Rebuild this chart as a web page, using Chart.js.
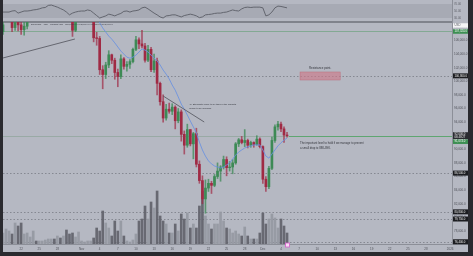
<!DOCTYPE html>
<html><head><meta charset="utf-8">
<script src="https://cdn.jsdelivr.net/npm/chart.js@4/dist/chart.umd.min.js"></script>
<style>html,body{margin:0;padding:0;background:#b5b8c2;overflow:hidden}canvas{display:block}</style>
</head><body>
<canvas id="c" width="473" height="256"></canvas>
<script>
// ---------- DATA (BTCUSD 12h, days relative to 1 Nov) ----------
const firstBarDay = -13;   // 19 Oct 00:00
const barDays = 0.5;       // 12h candles
const opens = [107300,108900,109600,110600,107900,110200,108300,107600,108100,109900,
110900,111200,110800,111300,111600,112700,114500,115600,114100,115200,
112900,113200,110000,109200,107500,109400,109600,110000,110100,110500,
110600,106400,106300,101700,101000,102400,103900,103100,101300,100700,
103300,102200,102500,102900,104700,106100,105500,105200,103100,104700,
101700,103000,99700,97000,94600,95900,95600,96200,94200,95500,
92200,90600,92900,90800,92300,87800,85400,82700,84300,85000,
84700,86000,86800,87400,88500,87300,87400,88000,90800,91400,
91000,91300,90600,91000,90700,91500,90400,85600,84500,87200,
91300,93300,93700,93000,92100];
const highs = [109000,110000,111000,111200,110800,114000,109000,109200,110400,111300,
111800,112000,111600,111900,113000,114900,116400,115900,116000,115600,
113600,113400,111000,109600,109800,110600,110300,110500,111200,111000,
110800,107200,106600,102300,102800,104500,104000,103400,101800,103900,
103500,102900,103200,104900,106600,106400,107500,105600,105300,105000,
104000,103400,99900,98000,96600,96800,96700,96400,96000,95800,
92700,93700,92900,92500,93100,88300,86100,85500,85600,85300,
86300,88000,87600,89000,88900,88200,88500,91000,91600,91900,
92900,91500,91200,91100,92000,91700,90500,86000,87500,91800,
93600,94100,94000,93300,92500];
const lows = [106900,108800,109200,107300,107500,107400,106900,106800,107700,109500,
109800,110300,110500,110900,111200,112400,114200,113800,113700,112200,
112500,109800,108900,106600,107300,108900,109200,109600,109700,109900,
105800,105300,101000,98900,100400,102000,102600,100300,99200,100400,
101800,101500,101900,102700,104500,104800,104900,102800,102900,101400,
101300,98000,96500,94000,94300,95300,95100,93000,93900,91200,
89300,90300,90500,88600,87400,85000,82000,80600,83800,83500,
84500,85700,85300,87100,86100,86800,86400,87800,90400,90800,
90400,90200,90300,90300,90600,90200,85000,83800,84200,87000,
91000,92800,92600,91000,91800];
const closes = [108300,109600,110600,107900,110200,108300,107600,108100,109900,110900,
111200,110800,111300,111600,112700,114500,115600,114100,115200,112900,
113200,110000,109200,107500,109400,109600,110000,110100,110500,110600,
106400,106300,101700,101000,102400,103900,103100,101300,100700,103300,
102200,102500,102900,104700,106100,105500,105200,103100,104700,101700,
103000,99700,97000,94600,95900,95600,96200,94200,95500,92200,
90600,92900,90800,92300,87800,85400,82700,84300,85000,84700,
86000,86800,87400,88500,87300,87400,88000,90800,91400,91000,
91300,90600,91000,90700,91500,90400,85600,84500,87200,91300,
93300,93700,93000,92100,92000];
const volumes = [11,15,13,10,21,18,21,10,11,7,
13,3,3,3,4,5,5,5,8,6,
8,14,10,11,7,12,3,2,3,3,
6,16,13,33,21,16,8,23,13,23,
8,3,2,4,10,23,25,38,25,42,
36,53,28,23,20,11,11,20,13,30,
25,31,16,20,16,38,53,28,20,15,
20,20,32,23,16,15,11,13,10,8,
17,8,5,5,5,11,31,20,25,30,
26,16,25,18,11];
const maValues = [null,null,null,null,null,null,null,null,null,null,
null,null,null,null,null,null,null,null,null,null,
null,null,null,null,null,null,null,null,null,111000,
110300,109500,108600,107850,107250,106650,106200,105650,105050,104450,
104000,103550,103400,103550,103850,104300,104750,104600,104300,103850,
103400,103000,102400,101650,101050,100350,99450,98700,97700,96650,
95900,95050,94150,93300,92400,91050,89900,89000,88300,87850,
87550,87400,87250,87400,87700,88000,88550,89150,89600,89900,
90200,90350,90500,90650,90650,90650,89900,89000,88700,89300,
89900,90500,90950,91350,91650];
const rsiValues = [47,47,47,50,51,44,47,50,50,51,
53,54,56,59,60,66,67,64,61,57,
53,47,39,44,47,49,50,50,53,51,
44,37,30,33,36,41,39,36,40,43,
49,50,47,50,51,53,59,61,56,50,
44,39,33,30,36,37,39,39,36,33,
37,39,41,39,36,31,33,39,40,41,
43,44,44,46,47,50,53,51,50,56,
60,61,60,61,61,61,59,36,39,47,
59,64,63,61,59];
const rsiBands = [70, 50, 30];
const xTickDays = [-10,-7,-4,0,3,6,9,12,15,18,21,24,27,30,33,36,39,42,45,48,51,54,57,61];
const xTickLabels = ['22','25','28','Nov','4','7','10','13','16','19','22','25','28','Dec','4','7','10','13','16','19','22','25','28','2026'];
const yTickValues = [108000,106000,104000,102000,100000,98000,96000,94000,92000,90000,88000,86000,84000,82000,80000,78000];
const supportLevel = 107324;
const dashedLevels = [100800, 86500, 80800, 79750, 76400];
const prevClose = 91074;
const countdown = '06:48:27';
const trendLines = [[-13, 103430, -1.1, 106220], [13.5, 97840, 20.3, 94015]];
const resistanceZone = [36.15, 101370, 42.8, 100190];
const zoneLabel = 'Resistance point.';
const notes = [
  {day: 17.8, price: 96660, lines: ['4H Stochastic ready to be taken if the markets', 'decide to go upwards.']},
  {day: 36.15, price: 90880, lines: ['The important level to hold if we manage to prevent', 'a small drop to 88K-89K.']}
];
const symbolText = 'BTCUSD \u00b7 12h \u00b7 COINBASE';

// ---------- CHART ----------
const times = opens.map((_, i) => firstBarDay + i * barDays);
const FONT = '"Liberation Sans", Arial, sans-serif';
const BG = '#b5b8c2';
const UP = '#3d8a55', DOWN = '#a02a44';
const isUp = i => closes[i] >= opens[i];
const fmt = v => v.toLocaleString('en-US', {minimumFractionDigits: 1, maximumFractionDigits: 1});
const PANEL_TOP = 22;
const priceClip = {left: 0, top: -PANEL_TOP, right: 0, bottom: 0};

function tag(ctx, x, y, w, h, bg, fg, lines) {
  ctx.fillStyle = bg;
  ctx.fillRect(x, y - h / 2, w, h);
  ctx.fillStyle = fg;
  ctx.font = '2.8px ' + FONT;
  ctx.textBaseline = 'middle';
  ctx.textAlign = 'left';
  const lh = h / lines.length;
  lines.forEach((t, k) => ctx.fillText(t, x + 1.5, y - h / 2 + lh * (k + 0.5)));
}

const deco = {
  id: 'deco',
  beforeDraw(chart) {
    const {ctx, chartArea: a, width, height} = chart;
    const r = chart.scales.yRsi;
    ctx.save();
    ctx.fillStyle = BG; ctx.fillRect(0, 0, width, height);
    const y70 = r.getPixelForValue(rsiBands[0]), y30 = r.getPixelForValue(rsiBands[2]);
    ctx.fillStyle = '#a7aab4';
    ctx.fillRect(a.left, y70, a.right - a.left, y30 - y70);
    ctx.restore();
  },
  beforeDatasetsDraw(chart) {
    const {ctx, chartArea: a} = chart;
    const y = chart.scales.y;
    ctx.save();
    // panel separator
    ctx.strokeStyle = '#6f727a'; ctx.lineWidth = 1.5;
    ctx.beginPath(); ctx.moveTo(a.left, a.top + PANEL_TOP); ctx.lineTo(a.right, a.top + PANEL_TOP); ctx.stroke();
    // support level
    ctx.lineWidth = 1;
    ctx.strokeStyle = 'rgba(70,150,90,0.45)';
    let py = Math.round(y.getPixelForValue(supportLevel)) + 0.5;
    ctx.beginPath(); ctx.moveTo(a.left, py); ctx.lineTo(a.right, py); ctx.stroke();
    // last price faint line
    ctx.strokeStyle = 'rgba(90,140,100,0.3)';
    py = Math.round(y.getPixelForValue(closes[closes.length - 1])) + 0.5;
    ctx.beginPath(); ctx.moveTo(a.left, py); ctx.lineTo(a.right, py); ctx.stroke();
    // dashed levels
    ctx.strokeStyle = 'rgba(105,108,116,0.8)'; ctx.lineWidth = 0.8; ctx.setLineDash([1.5, 2]);
    dashedLevels.forEach(p => {
      const yy = Math.round(y.getPixelForValue(p)) + 0.5;
      ctx.beginPath(); ctx.moveTo(a.left, yy); ctx.lineTo(a.right, yy); ctx.stroke();
    });
    ctx.restore();
  },
  afterDatasetsDraw(chart) {
    const {ctx, chartArea: a} = chart;
    const x = chart.scales.x, y = chart.scales.y;
    ctx.save();
    // last price strong segment
    const last = closes.length - 1;
    const py = Math.round(y.getPixelForValue(closes[last])) + 0.5;
    ctx.strokeStyle = 'rgba(80,165,100,0.8)'; ctx.lineWidth = 1;
    ctx.beginPath(); ctx.moveTo(x.getPixelForValue(times[last]) + 2, py); ctx.lineTo(a.right, py); ctx.stroke();
    // trend lines
    ctx.strokeStyle = '#50525a'; ctx.lineWidth = 0.8;
    trendLines.forEach(([d1, p1, d2, p2]) => {
      ctx.beginPath();
      ctx.moveTo(x.getPixelForValue(d1), y.getPixelForValue(p1));
      ctx.lineTo(x.getPixelForValue(d2), y.getPixelForValue(p2));
      ctx.stroke();
    });
    // resistance zone
    const [zd1, zp1, zd2, zp2] = resistanceZone;
    const zx1 = x.getPixelForValue(zd1), zx2 = x.getPixelForValue(zd2);
    const zy1 = y.getPixelForValue(zp1), zy2 = y.getPixelForValue(zp2);
    ctx.fillStyle = 'rgba(205,120,135,0.62)';
    ctx.fillRect(zx1, zy1, zx2 - zx1, zy2 - zy1);
    ctx.strokeStyle = 'rgba(190,100,115,0.8)'; ctx.lineWidth = 0.5;
    ctx.strokeRect(zx1, zy1, zx2 - zx1, zy2 - zy1);
    ctx.fillStyle = '#34363d';
    ctx.font = '2.9px ' + FONT; ctx.textAlign = 'center'; ctx.textBaseline = 'middle';
    ctx.fillText(zoneLabel, (zx1 + zx2) / 2, zy1 - 4);
    // notes
    ctx.textAlign = 'left';
    notes.forEach((n, k) => {
      ctx.font = (k === 0 ? '2.3px ' : '2.8px ') + FONT;
      const nx = x.getPixelForValue(n.day), ny = y.getPixelForValue(n.price);
      n.lines.forEach((t, j) => ctx.fillText(t, nx, ny + j * 4.5));
    });
    // legend
    ctx.font = '2.5px ' + FONT; ctx.fillStyle = '#3b3d45';
    ctx.fillText(symbolText + '   O' + fmt(opens[last]) + ' H' + fmt(highs[last]) + ' L' + fmt(lows[last]) + ' C' + fmt(closes[last]), a.left + 28, a.top + PANEL_TOP + 2.7);
    ctx.restore();
  },
  afterDraw(chart) {
    const {ctx, chartArea: a, width, height} = chart;
    const x = chart.scales.x, y = chart.scales.y, r = chart.scales.yRsi;
    ctx.save();
    // axis separators
    ctx.strokeStyle = '#8c8f98'; ctx.lineWidth = 1;
    ctx.beginPath(); ctx.moveTo(a.right + 0.5, 0); ctx.lineTo(a.right + 0.5, a.bottom); ctx.stroke();
    ctx.beginPath(); ctx.moveTo(a.left, a.bottom + 0.5); ctx.lineTo(width - 5, a.bottom + 0.5); ctx.stroke();
    // RSI scale labels
    ctx.fillStyle = '#5c5e66'; ctx.font = '2.8px ' + FONT; ctx.textBaseline = 'middle'; ctx.textAlign = 'left';
    rsiBands.forEach(v => ctx.fillText(v.toFixed(2), a.right + 2, r.getPixelForValue(v)));
    const tw = 15;
    // USD tag
    tag(ctx, a.right + 1, a.top + PANEL_TOP + 3.5, tw, 4.5, '#f4f4f6', '#55575f', ['USD']);
    // support tag
    tag(ctx, a.right + 1, y.getPixelForValue(supportLevel), tw, 4.5, '#3c8f52', '#ffffff', [fmt(supportLevel)]);
    // dashed level tags
    dashedLevels.forEach(p => tag(ctx, a.right + 1, y.getPixelForValue(p), tw, 5, '#1c1d21', '#f0f0f0', [fmt(p)]));
    // last price tag + countdown
    const last = closes.length - 1;
    const ly = y.getPixelForValue(closes[last]);
    tag(ctx, a.right + 1, ly, tw, 7, '#2a2b30', '#f0f0f0', [fmt(closes[last]), countdown]);
    tag(ctx, a.right + 1, ly + 6, tw, 4.5, '#3c8f52', '#ffffff', [fmt(prevClose)]);
    // current bar marker on time axis
    const mx = x.getPixelForValue(times[last]);
    ctx.fillStyle = '#f6dcf2'; ctx.strokeStyle = '#d45fcb'; ctx.lineWidth = 0.8;
    ctx.fillRect(mx - 1.5, a.bottom - 1, 4, 4); ctx.strokeRect(mx - 1.5, a.bottom - 1, 4, 4);
    // frame
    ctx.fillStyle = '#2a2a2f';
    ctx.fillRect(0, 0, 3, height);
    ctx.fillRect(width - 5, 0, 5, height);
    ctx.fillRect(0, height - 4, width, 4);
    ctx.restore();
  }
};

new Chart(document.getElementById('c'), {
  type: 'bar',
  data: {
    datasets: [
      {
        type: 'bar', label: 'Volume', yAxisID: 'yVol', grouped: false, order: 10,
        data: times.map((t, i) => ({x: t, y: volumes[i]})),
        barThickness: 2, borderWidth: 0,
        backgroundColor: c => isUp(c.dataIndex) ? 'rgba(150,153,162,0.95)' : 'rgba(95,97,105,0.9)'
      },
      {
        type: 'bar', label: 'Wicks', yAxisID: 'y', grouped: false, order: 5, clip: priceClip,
        data: times.map((t, i) => ({x: t, y: [lows[i], highs[i]]})),
        barThickness: 1, borderWidth: 0,
        backgroundColor: c => isUp(c.dataIndex) ? 'rgba(61,138,85,0.75)' : 'rgba(160,42,68,0.7)'
      },
      {
        type: 'bar', label: 'BTCUSD', yAxisID: 'y', grouped: false, order: 4, clip: priceClip,
        data: times.map((t, i) => ({x: t, y: [opens[i], closes[i]]})),
        barThickness: 2, borderWidth: 0,
        backgroundColor: c => isUp(c.dataIndex) ? UP : DOWN
      },
      {
        type: 'line', label: 'MA', yAxisID: 'y', order: 2, clip: priceClip,
        data: times.map((t, i) => ({x: t, y: maValues[i]})),
        borderColor: 'rgba(105,145,225,0.85)', borderWidth: 1, pointRadius: 0, tension: 0, spanGaps: false
      },
      {
        type: 'line', label: 'RSI', yAxisID: 'yRsi', order: 1,
        data: times.map((t, i) => ({x: t, y: rsiValues[i]})),
        borderColor: '#5b5e66', borderWidth: 0.9, pointRadius: 0, tension: 0
      }
    ]
  },
  options: {
    responsive: false, animation: false, devicePixelRatio: 1, events: [],
    layout: {padding: {left: 3, right: 5, top: 0, bottom: 4}},
    plugins: {legend: {display: false}, tooltip: {enabled: false}},
    scales: {
      x: {
        type: 'linear', min: -13, max: 61.3, offset: false,
        grid: {display: false, drawTicks: false}, border: {display: false},
        ticks: {autoSkip: false, maxRotation: 0, minRotation: 0, font: {size: 3, family: FONT}, color: '#50525a', padding: 3,
          callback: (v, i) => xTickLabels[i]},
        afterBuildTicks: s => { s.ticks = xTickDays.map(v => ({value: v})); },
        afterFit: s => { s.height = 8; s.paddingLeft = 0; s.paddingRight = 0; }
      },
      y: {
        type: 'linear', position: 'right', min: 76074, max: 111956,
        grid: {display: false, drawTicks: false}, border: {display: false},
        ticks: {font: {size: 3, family: FONT}, color: '#50525a', padding: 2, callback: v => fmt(v)},
        afterBuildTicks: s => { s.ticks = yTickValues.map(v => ({value: v})); },
        afterFit: s => { s.width = 16; s.paddingTop = 0; s.paddingBottom = 0; }
      },
      yRsi: {type: 'linear', display: false, min: -615.7, max: 81.43},
      yVol: {type: 'linear', display: false, min: 0, max: 244}
    }
  },
  plugins: [deco]
});
</script>
</body></html>
